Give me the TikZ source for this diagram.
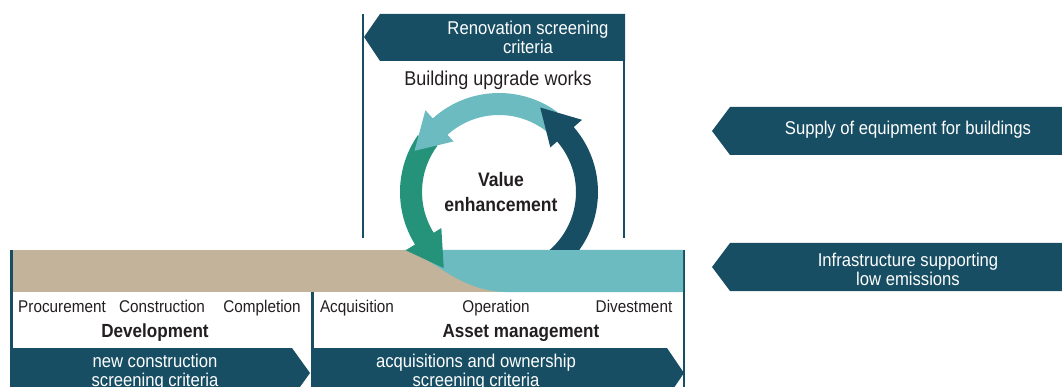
\documentclass[tikz,border=0pt]{standalone}
\usepackage{fontspec}
\setmainfont[FakeStretch=0.9]{Liberation Sans}
\definecolor{dteal}{HTML}{174E63}
\definecolor{lteal}{HTML}{6CBBC0}
\definecolor{arrgreen}{HTML}{25937A}
\definecolor{bandtan}{HTML}{C3B39B}
\definecolor{txt}{HTML}{231F20}
\tikzset{
  banner/.style={fill=dteal},
  vline/.style={draw=dteal, line width=2.6pt},
  wtxt/.style={text=white, align=center, inner sep=0pt, font=\fontsize{18.5}{19}\selectfont},
  phase/.style={text=txt, inner sep=0pt, anchor=base, font=\fontsize{17}{20}\selectfont},
  stage/.style={text=txt, inner sep=0pt, anchor=base, font=\bfseries\fontsize{19}{22}\selectfont},
}
\begin{document}
\begin{tikzpicture}[x=1pt,y=-1pt]
\useasboundingbox (0,0) rectangle (1062,387);
% vertical frame lines
\draw[vline] (363,14) -- (363,238);
\draw[vline] (624,14) -- (624,238);
\draw[vline] (11.5,250) -- (11.5,387);
\draw[vline] (312.5,250) -- (312.5,387);
\draw[vline] (684,250) -- (684,387);
% top banner
\path[banner] (364,37) -- (380,14) -- (625,14) -- (625,61) -- (380,61) -- cycle;
\node[wtxt] (reno) at (528,37) {Renovation screening\\criteria};
\node[text=txt, inner sep=0pt, anchor=base, font=\fontsize{20}{22}\selectfont] (upg) at (498,86) {Building upgrade works};
% bands
\fill[bandtan] (13,250) rectangle (683,292);
\fill[lteal] (683,250) -- (403,250) .. controls (425,250) and (455,291) .. (505,292) -- (683,292) -- cycle;
% cycle arrows
\begin{scope}[shift={(499,192)}, yscale=-1]
  \fill[arrgreen] (145:99) arc[start angle=145, end angle=212, radius=99] -- (212:110) -- (234:94) -- (212:68) -- (212:77) arc[start angle=212, end angle=143, radius=77] -- cycle;
  \fill[lteal] (54:99) arc[start angle=54, end angle=132, radius=99] -- (132:110) -- (154:94) -- (132:68) -- (132:77) arc[start angle=132, end angle=52, radius=77] -- cycle;
  \begin{scope}
    \clip (-120,-58) rectangle (120,120);
    \fill[dteal] (-70:99) arc[start angle=-70, end angle=41, radius=99] -- (41:110) -- (64:94) -- (41:68) -- (41:77) arc[start angle=41, end angle=-70, radius=77] -- cycle;
  \end{scope}
\end{scope}
\node[text=txt, inner sep=0pt, align=center, font=\bfseries\fontsize{19.5}{24.5}\selectfont] (val) at (501,192) {Value\\enhancement};
% right banners
\path[banner] (712,131) -- (730,107) -- (1062,107) -- (1062,155) -- (730,155) -- cycle;
\node[wtxt] (supply) at (908,130) {Supply of equipment for buildings};
\path[banner] (712,267) -- (730,243) -- (1062,243) -- (1062,291) -- (730,291) -- cycle;
\node[wtxt] (infra) at (908,269) {Infrastructure supporting\\low emissions};
% phase labels
\node[phase] (proc) at (62,312) {Procurement};
\node[phase] (cons) at (162,312) {Construction};
\node[phase] (comp) at (262,312) {Completion};
\node[phase] (acq) at (357,312) {Acquisition};
\node[phase] (oper) at (496,312) {Operation};
\node[phase] (dive) at (634,312) {Divestment};
\node[stage] (dev) at (155,337) {Development};
\node[stage] (am) at (521,337) {Asset management};
% bottom banners
\path[banner] (10,348) -- (292,348) -- (310,373) -- (292,398) -- (10,398) -- cycle;
\node[wtxt] (newc) at (155,372) {new construction\\screening criteria};
\path[banner] (314,348) -- (667,348) -- (684,373) -- (667,398) -- (314,398) -- cycle;
\node[wtxt] (acqs) at (476,372) {acquisitions and ownership\\screening criteria};
\end{tikzpicture}
\end{document}
